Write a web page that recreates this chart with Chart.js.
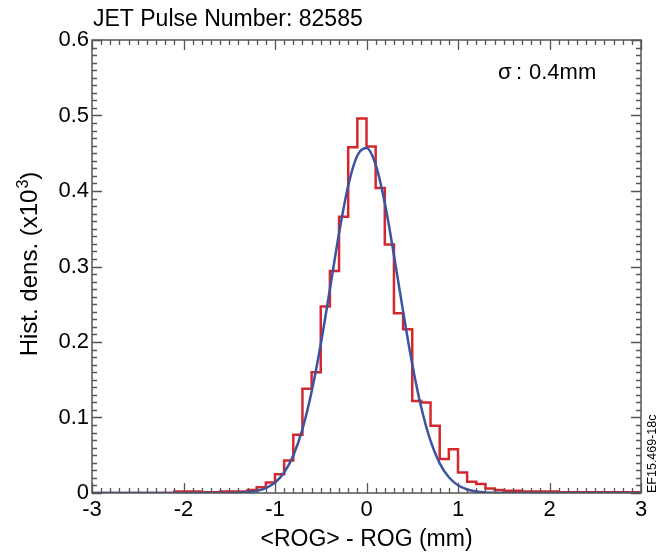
<!DOCTYPE html>
<html>
<head>
<meta charset="utf-8">
<script src="https://cdn.jsdelivr.net/npm/chart.js@4/dist/chart.umd.min.js"></script>
<style>
html,body{margin:0;padding:0;background:#fff;}
#wrap{width:672px;height:552px;position:relative;}
</style>
</head>
<body>
<div id="wrap"><canvas id="c" width="672" height="552"></canvas></div>
<script>
// ---- data ----
const titleText = 'JET Pulse Number: 82585';
const sigmaSymbol = 'σ';
const sigmaValue = '0.4mm';
const refText = 'EF15.469-18c';
const xTitle = '<ROG> - ROG (mm)';
const yTitleMain = 'Hist. dens. (x10';
const yTitleSup = '3';
const yTitleEnd = ')';

// histogram bin edges (mm)
const binEdges = [
 -3.0,-2.9,-2.8,-2.7,-2.6,-2.5,-2.4,-2.3,-2.2,-2.1,
 -2.0,-1.9,-1.8,-1.7,-1.6,-1.5,-1.4,-1.3,-1.2,-1.1,
 -1.0,-0.9,-0.8,-0.7,-0.6,-0.5,-0.4,-0.3,-0.2,-0.1,
  0.0, 0.1, 0.2, 0.3, 0.4, 0.5, 0.6, 0.7, 0.8, 0.9,
  1.0, 1.1, 1.2, 1.3, 1.4, 1.5, 1.6, 1.7, 1.8, 1.9,
  2.0, 2.1, 2.2, 2.3, 2.4, 2.5, 2.6, 2.7, 2.8, 2.9, 3.0
];
// histogram density per bin (x10^3)
const histValues = [
 0.000,0.000,0.000,0.000,0.000,0.000,0.000,0.000,0.000,0.002,
 0.002,0.002,0.001,0.001,0.002,0.002,0.002,0.004,0.0075,0.014,
 0.025,0.043,0.077,0.138,0.160,0.247,0.294,0.366,0.458,0.496,
 0.459,0.404,0.329,0.238,0.217,0.122,0.120,0.089,0.045,0.058,
 0.027,0.015,0.012,0.006,0.004,0.003,0.003,0.002,0.002,0.002,
 0.002,0.001,0.001,0.001,0.001,0.001,0.001,0.001,0.001,0.001
];
// gaussian fit curve
const fitX = [
 -3.0,-1.6,-1.5,-1.4,-1.3,-1.2,-1.1,-1.0,-0.9,-0.8,-0.7,-0.6,-0.5,-0.4,-0.3,-0.2,-0.1,
  0.0, 0.1, 0.2, 0.3, 0.4, 0.5, 0.6, 0.7, 0.8, 0.9, 1.0, 1.1, 1.2, 1.3, 1.4, 1.5, 3.0
];
const fitY = [
 0.0, 0.0, 0.0002,0.0004,0.0012,0.0028,0.0065,0.0137,0.0271,0.0496,0.0846,0.134,0.197,0.270,0.344,0.407,0.447,
 0.457,0.435,0.384,0.315,0.2405,0.1706,0.1125,0.069,0.0393,0.0208,0.0102,0.0047,0.0020,0.0008,0.0003,0.0001,0.0
];
const xTicks = [-3,-2,-1,0,1,2,3];
const yTicks = [0,0.1,0.2,0.3,0.4,0.5,0.6];

// ---- build datasets ----
const histPoints = histValues.map((v,i)=>({x:binEdges[i], y:v}));
histPoints.push({x:binEdges[binEdges.length-1], y:histValues[histValues.length-1]});
const fitPoints = fitX.map((x,i)=>({x:x, y:fitY[i]}));

const FONT = '"Liberation Sans", Arial, Helvetica, sans-serif';

const framePlugin = {
  id:'frame',
  afterDatasetsDraw(chart){
    const {ctx, chartArea:a, scales:{x,y}} = chart;
    ctx.save();
    ctx.strokeStyle = '#555';
    ctx.lineWidth = 1.3;
    ctx.beginPath();
    for(let i=0;i<=60;i++){
      const py = Math.round(y.getPixelForValue(i/100))+0.5;
      const len = (i%10===0)?10:5;
      ctx.moveTo(a.left, py); ctx.lineTo(a.left+len, py);
      ctx.moveTo(a.right, py); ctx.lineTo(a.right-len, py);
    }
    for(let i=-30;i<=30;i++){
      const px = Math.round(x.getPixelForValue(i/10))+0.5;
      const len = (i%10===0)?10:5;
      ctx.moveTo(px, a.bottom); ctx.lineTo(px, a.bottom-len);
      ctx.moveTo(px, a.top); ctx.lineTo(px, a.top+len);
    }
    ctx.stroke();
    ctx.lineWidth = 1.5;
    ctx.strokeRect(a.left, a.top, a.right-a.left, a.bottom-a.top);
    // texts
    ctx.fillStyle = '#000';
    ctx.textBaseline = 'middle';
    ctx.textAlign = 'left';
    ctx.font = '23px ' + FONT;
    ctx.fillText(titleText, 93, 20);
    ctx.font = '22px ' + FONT;
    ctx.fillText(sigmaSymbol, 498, 73);
    ctx.fillText(':', 516, 73);
    ctx.fillText(sigmaValue, 529, 73);
    // reference id, vertical
    ctx.save();
    ctx.translate(653, 493);
    ctx.rotate(-Math.PI/2);
    ctx.font = '12.5px ' + FONT;
    ctx.fillText(refText, 0, 0);
    ctx.restore();
    // y axis title with superscript
    ctx.save();
    ctx.textBaseline = 'alphabetic';
    const mainF = '24px ' + FONT, supF = '16px ' + FONT;
    ctx.font = mainF; const w1 = ctx.measureText(yTitleMain).width, w3 = ctx.measureText(yTitleEnd).width;
    ctx.font = supF; const w2 = ctx.measureText(yTitleSup).width;
    const total = w1 + w2 + 1 + w3;
    const cy = 264;
    ctx.translate(37, cy);
    ctx.rotate(-Math.PI/2);
    let sx = -total/2;
    ctx.font = mainF; ctx.fillText(yTitleMain, sx, 0); sx += w1 + 1;
    ctx.font = supF; ctx.fillText(yTitleSup, sx, -9); sx += w2;
    ctx.font = mainF; ctx.fillText(yTitleEnd, sx, 0);
    ctx.restore();
    ctx.restore();
  }
};

new Chart(document.getElementById('c'), {
  type:'line',
  data:{
    datasets:[
      {label:'hist', data:histPoints, stepped:'before', borderColor:'#d5282e', borderWidth:2.5,
       pointRadius:0, fill:false, order:2},
      {label:'fit', data:fitPoints, borderColor:'#3b53a3', borderWidth:2.5, pointRadius:0,
       cubicInterpolationMode:'monotone', fill:false, order:1}
    ]
  },
  options:{
    responsive:false, animation:false,
    layout:{padding:{left:0, right:31, top:40, bottom:0}},
    plugins:{legend:{display:false}, tooltip:{enabled:false}},
    scales:{
      x:{type:'linear', min:-3, max:3,
        afterBuildTicks(s){ s.ticks = xTicks.map(v=>({value:v})); },
        afterFit(s){ s.height = 59; },
        grid:{display:false, drawTicks:false}, border:{display:false},
        ticks:{color:'#000', font:{size:22, family:FONT}, padding:4, maxRotation:0,
          callback:(v)=> String(v)},
        title:{display:true, text:xTitle, color:'#000', font:{size:23, family:FONT}, padding:{top:0,bottom:-1}}
      },
      y:{type:'linear', min:0, max:0.6,
        afterBuildTicks(s){ s.ticks = yTicks.map(v=>({value:v})); },
        afterFit(s){ s.width = 92; },
        grid:{display:false, drawTicks:false}, border:{display:false},
        ticks:{color:'#000', font:{size:22, family:FONT}, padding:3,
          callback:(v)=> String(Math.round(v*10)/10)},
        title:{display:false}
      }
    }
  },
  plugins:[framePlugin]
});
</script>
</body>
</html>
